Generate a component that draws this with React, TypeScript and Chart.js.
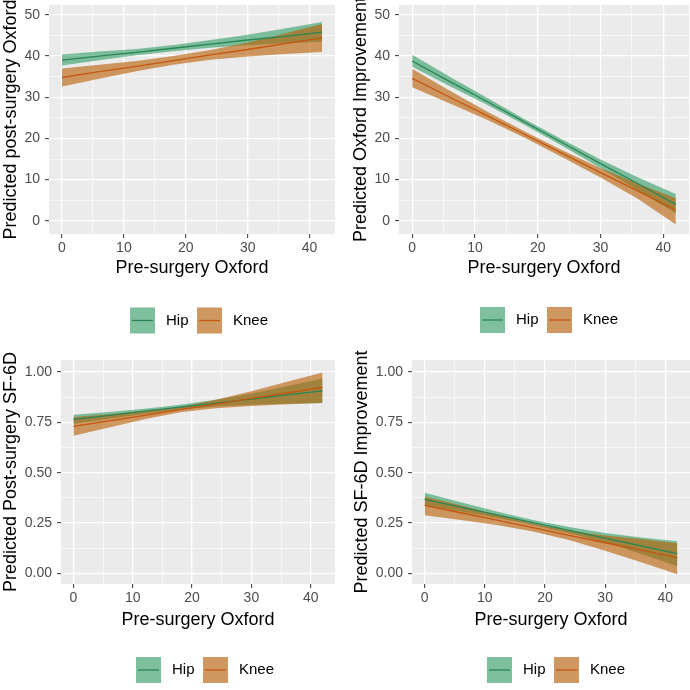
import React, { useEffect, useRef } from "react";
import { Chart, registerables } from "chart.js";

Chart.register(...registerables);

const FONT = "'Liberation Sans', Arial, sans-serif";

// ---------- shared axis data ----------
const xValues = [0, 6, 12, 18, 24, 30, 36, 42];
const seriesNames = ["Hip", "Knee"];
const xAxisTitle = "Pre-surgery Oxford";
const xTickValues = [0, 10, 20, 30, 40];
const xTickLabels = ["0", "10", "20", "30", "40"];

const oxfordYTickValues = [0, 10, 20, 30, 40, 50];
const oxfordYTickLabels = ["0", "10", "20", "30", "40", "50"];
const sf6dYTickValues = [0, 0.25, 0.5, 0.75, 1];
const sf6dYTickLabels = ["0.00", "0.25", "0.50", "0.75", "1.00"];

// ---------- panel A: post-surgery Oxford ----------
const postOxfordTitle = "Predicted post-surgery Oxford";
const postOxfordHipMean = [39.0, 40.0, 40.9, 41.9, 42.9, 43.9, 44.8, 45.8];
const postOxfordHipLower = [37.7, 39.0, 40.2, 41.2, 42.0, 42.6, 43.1, 43.5];
const postOxfordHipUpper = [40.4, 41.1, 41.7, 42.7, 43.9, 45.2, 46.7, 48.3];
const postOxfordKneeMean = [34.8, 36.2, 37.5, 38.9, 40.3, 41.6, 43.0, 44.4];
const postOxfordKneeLower = [32.6, 34.5, 36.3, 37.9, 39.1, 39.9, 40.5, 41.0];
const postOxfordKneeUpper = [37.0, 37.9, 38.8, 40.0, 41.5, 43.3, 45.5, 47.8];

// ---------- panel B: Oxford improvement ----------
const oxfordImpTitle = "Predicted Oxford Improvement";
const oxfordImpHipMean = [38.8, 33.8, 28.9, 23.9, 18.9, 13.9, 9.0, 4.0];
const oxfordImpHipLower = [37.4, 32.7, 28.1, 23.2, 18.1, 12.8, 7.4, 1.8];
const oxfordImpHipUpper = [40.3, 35.0, 29.8, 24.6, 19.7, 14.9, 10.5, 6.5];
const oxfordImpKneeMean = [34.6, 30.0, 25.5, 20.9, 16.3, 11.7, 7.2, 2.6];
const oxfordImpKneeLower = [32.4, 28.5, 24.5, 20.1, 15.4, 10.5, 5.3, -0.9];
const oxfordImpKneeUpper = [36.9, 31.6, 26.5, 21.6, 17.1, 12.8, 9.0, 5.5];

// ---------- panel C: post-surgery SF-6D ----------
const postSf6dTitle = "Predicted Post-surgery SF-6D";
const postSf6dHipMean = [0.765, 0.785, 0.806, 0.826, 0.846, 0.866, 0.887, 0.907];
const postSf6dHipLower = [0.742, 0.768, 0.792, 0.814, 0.829, 0.838, 0.843, 0.846];
const postSf6dHipUpper = [0.788, 0.802, 0.818, 0.838, 0.863, 0.893, 0.93, 0.968];
const postSf6dKneeMean = [0.73, 0.758, 0.785, 0.813, 0.841, 0.869, 0.896, 0.924];
const postSf6dKneeLower = [0.683, 0.725, 0.765, 0.8, 0.82, 0.832, 0.84, 0.846];
const postSf6dKneeUpper = [0.777, 0.79, 0.806, 0.826, 0.862, 0.905, 0.952, 0.998];

// ---------- panel D: SF-6D improvement ----------
const sf6dImpTitle = "Predicted SF-6D Improvement";
const sf6dImpHipMean = [0.368, 0.329, 0.291, 0.252, 0.214, 0.175, 0.137, 0.098];
const sf6dImpHipLower = [0.338, 0.307, 0.276, 0.24, 0.199, 0.154, 0.096, 0.035];
const sf6dImpHipUpper = [0.4, 0.353, 0.307, 0.265, 0.23, 0.2, 0.178, 0.16];
const sf6dImpKneeMean = [0.338, 0.301, 0.264, 0.227, 0.189, 0.152, 0.115, 0.078];
const sf6dImpKneeLower = [0.288, 0.265, 0.24, 0.208, 0.166, 0.112, 0.055, -0.005];
const sf6dImpKneeUpper = [0.382, 0.338, 0.29, 0.247, 0.212, 0.188, 0.17, 0.15];

// ---------- styles ----------
const hipFill = "rgba(20,145,80,0.52)";
const kneeFill = "rgba(185,92,0,0.6)";
const hipLine = "#2A8455";
const kneeLine = "#C4560F";
const panelBg = "#EBEBEB";

type PanelData = {
  title: string;
  yTicks: number[];
  yLabels: string[];
  yMin: number;
  yMax: number;
  hip: [number[], number[], number[]];
  knee: [number[], number[], number[]];
};

const panels: PanelData[] = [
  {
    title: postOxfordTitle, yTicks: oxfordYTickValues, yLabels: oxfordYTickLabels, yMin: -3.2, yMax: 52.4,
    hip: [postOxfordHipMean, postOxfordHipLower, postOxfordHipUpper],
    knee: [postOxfordKneeMean, postOxfordKneeLower, postOxfordKneeUpper],
  },
  {
    title: oxfordImpTitle, yTicks: oxfordYTickValues, yLabels: oxfordYTickLabels, yMin: -3.2, yMax: 52.4,
    hip: [oxfordImpHipMean, oxfordImpHipLower, oxfordImpHipUpper],
    knee: [oxfordImpKneeMean, oxfordImpKneeLower, oxfordImpKneeUpper],
  },
  {
    title: postSf6dTitle, yTicks: sf6dYTickValues, yLabels: sf6dYTickLabels, yMin: -0.053, yMax: 1.06,
    hip: [postSf6dHipMean, postSf6dHipLower, postSf6dHipUpper],
    knee: [postSf6dKneeMean, postSf6dKneeLower, postSf6dKneeUpper],
  },
  {
    title: sf6dImpTitle, yTicks: sf6dYTickValues, yLabels: sf6dYTickLabels, yMin: -0.053, yMax: 1.06,
    hip: [sf6dImpHipMean, sf6dImpHipLower, sf6dImpHipUpper],
    knee: [sf6dImpKneeMean, sf6dImpKneeLower, sf6dImpKneeUpper],
  },
];

type Layout = {
  left: number; top: number; yAxisWidth: number; padTop: number; padRight: number;
  xAxisHeight: number; padBottom: number; yTitlePad: number; legendX: number; legendY: number;
};

const layouts: Layout[] = [
  { left: 0, top: 0, yAxisWidth: 49, padTop: 5, padRight: 10, xAxisHeight: 45, padBottom: 66, yTitlePad: 0, legendX: 130, legendY: 320.5 },
  { left: 345, top: 0, yAxisWidth: 54, padTop: 5, padRight: 1, xAxisHeight: 45, padBottom: 66, yTitlePad: 5, legendX: 135, legendY: 320 },
  { left: 0, top: 345, yAxisWidth: 61, padTop: 15, padRight: 10, xAxisHeight: 47, padBottom: 59, yTitlePad: 0, legendX: 136, legendY: 325 },
  { left: 345, top: 345, yAxisWidth: 67, padTop: 15, padRight: 0, xAxisHeight: 47, padBottom: 59, yTitlePad: 6, legendX: 142, legendY: 325 },
];

function withMinors(majors: number[]): number[] {
  const out: number[] = [];
  majors.forEach((m, i) => {
    out.push(m);
    if (i < majors.length - 1) out.push((m + majors[i + 1]) / 2);
  });
  return out;
}

function isIn(list: number[], v: number) {
  return list.findIndex((m) => Math.abs(m - v) < 1e-9);
}

function pts(ys: number[]) {
  return xValues.map((x, i) => ({ x, y: ys[i] }));
}

function makeBgPlugin() {
  return {
    id: "ggBg",
    beforeDraw(chart: any) {
      const { ctx, chartArea } = chart;
      ctx.save();
      ctx.fillStyle = panelBg;
      ctx.fillRect(chartArea.left, chartArea.top, chartArea.right - chartArea.left, chartArea.bottom - chartArea.top);
      ctx.restore();
    },
  };
}

function makeLegendPlugin(layout: Layout) {
  const items = [
    { label: seriesNames[0], fill: hipFill, line: hipLine },
    { label: seriesNames[1], fill: kneeFill, line: kneeLine },
  ];
  return {
    id: "ggLegend",
    afterDraw(chart: any) {
      const ctx = chart.ctx;
      const yc = layout.legendY;
      let x = layout.legendX;
      ctx.save();
      ctx.font = `15px ${FONT}`;
      items.forEach((it) => {
        ctx.fillStyle = "#F2F2F2";
        ctx.fillRect(x, yc - 13, 25, 26);
        ctx.fillStyle = it.fill;
        ctx.fillRect(x, yc - 13, 25, 26);
        ctx.strokeStyle = it.line;
        ctx.lineWidth = 1.3;
        ctx.beginPath();
        ctx.moveTo(x + 2, yc);
        ctx.lineTo(x + 23, yc);
        ctx.stroke();
        ctx.fillStyle = "#000";
        ctx.textBaseline = "middle";
        ctx.textAlign = "left";
        ctx.fillText(it.label, x + 36, yc);
        x = x + 36 + ctx.measureText(it.label).width + 8.5;
      });
      ctx.restore();
    },
  };
}

function buildConfig(p: PanelData, layout: Layout): any {
  const xAll = withMinors(xTickValues);
  const yAll = withMinors(p.yTicks);
  const band = (lower: number[], upper: number[], fill: string, order: number) => [
    { data: pts(lower), borderColor: "rgba(0,0,0,0)", borderWidth: 0, pointRadius: 0, fill: false, order },
    { data: pts(upper), borderColor: "rgba(0,0,0,0)", borderWidth: 0, pointRadius: 0, fill: "-1", backgroundColor: fill, order },
  ];
  const line = (mean: number[], color: string, order: number) => ({
    data: pts(mean), borderColor: color, borderWidth: 1.3, pointRadius: 0, fill: false, tension: 0, order,
  });

  const gridOpts = (majors: number[]) => ({
    color: "#FFFFFF",
    lineWidth: (ctx: any) => (ctx.tick && isIn(majors, ctx.tick.value) >= 0 ? 1.3 : 0.6),
    tickColor: (ctx: any) => (ctx.tick && isIn(majors, ctx.tick.value) >= 0 ? "#333333" : "rgba(0,0,0,0)"),
    tickWidth: 1,
    tickLength: 4,
    drawTicks: true,
  });

  return {
    type: "line",
    data: {
      datasets: [
        ...band(p.hip[1], p.hip[2], hipFill, 4),
        ...band(p.knee[1], p.knee[2], kneeFill, 3),
        line(p.hip[0], hipLine, 2),
        line(p.knee[0], kneeLine, 1),
      ],
    },
    options: {
      responsive: false,
      animation: false,
      devicePixelRatio: 1,
      layout: { padding: { left: 0, top: layout.padTop, right: layout.padRight, bottom: layout.padBottom } },
      plugins: { legend: { display: false }, tooltip: { enabled: false }, filler: { propagate: false } },
      scales: {
        x: {
          type: "linear",
          position: "bottom",
          min: -2.1,
          max: 44.1,
          border: { display: false },
          grid: gridOpts(xTickValues),
          afterBuildTicks: (s: any) => { s.ticks = xAll.map((v) => ({ value: v })); },
          afterFit: (s: any) => { s.height = layout.xAxisHeight; s.paddingLeft = 0; s.paddingRight = 0; },
          ticks: {
            autoSkip: false,
            maxRotation: 0,
            padding: 2,
            color: "#4D4D4D",
            font: { family: FONT, size: 14 },
            callback: (v: number) => { const i = isIn(xTickValues, v); return i >= 0 ? xTickLabels[i] : ""; },
          },
          title: { display: true, text: xAxisTitle, color: "#000", font: { family: FONT, size: 18 }, padding: { top: 0, bottom: 0 } },
        },
        y: {
          type: "linear",
          position: "left",
          min: p.yMin,
          max: p.yMax,
          border: { display: false },
          grid: gridOpts(p.yTicks),
          afterBuildTicks: (s: any) => { s.ticks = yAll.map((v) => ({ value: v })); },
          afterFit: (s: any) => { s.width = layout.yAxisWidth; s.paddingTop = 0; s.paddingBottom = 0; },
          ticks: {
            autoSkip: false,
            padding: 5,
            color: "#4D4D4D",
            font: { family: FONT, size: 14 },
            callback: (v: number) => { const i = isIn(p.yTicks, v); return i >= 0 ? p.yLabels[i] : ""; },
          },
          title: { display: true, text: p.title, color: "#000", font: { family: FONT, size: 18 }, padding: { top: layout.yTitlePad, bottom: 0 } },
        },
      },
    },
    plugins: [makeBgPlugin(), makeLegendPlugin(layout)],
  };
}

function Panel({ panel, layout }: { panel: PanelData; layout: Layout }) {
  const ref = useRef<HTMLCanvasElement>(null);
  useEffect(() => {
    const chart = new Chart(ref.current as HTMLCanvasElement, buildConfig(panel, layout));
    return () => chart.destroy();
  }, [panel, layout]);
  return (
    <canvas
      ref={ref}
      width={345}
      height={345}
      style={{ position: "absolute", left: layout.left, top: layout.top, width: 345, height: 345 }}
    />
  );
}

export default function App() {
  return (
    <div style={{ position: "absolute", left: 0, top: 0, width: 690, height: 690, background: "#FFFFFF", overflow: "hidden" }}>
      {panels.map((p, i) => (
        <Panel key={i} panel={p} layout={layouts[i]} />
      ))}
    </div>
  );
}
